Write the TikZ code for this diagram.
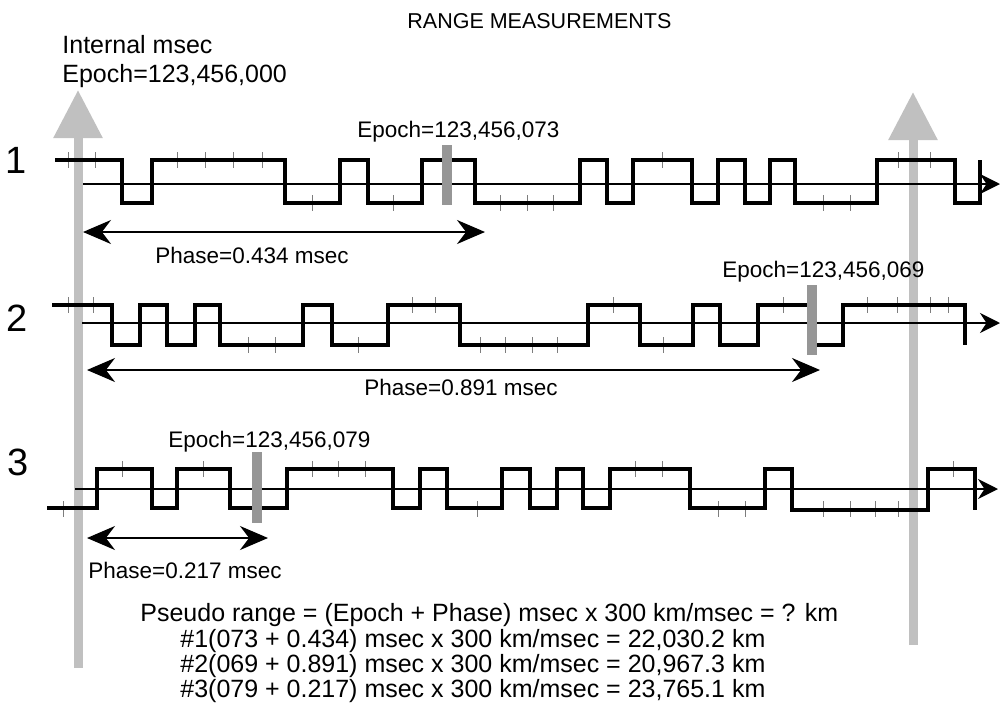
\documentclass[tikz,border=0pt]{standalone}
\usepackage{fontspec}
\setmainfont{Liberation Sans}
\usetikzlibrary{arrows.meta}
\definecolor{PaleGray}{RGB}{192,192,192}
\definecolor{MarkGray}{RGB}{150,150,150}
\definecolor{TickGray}{RGB}{125,125,125}

\begin{document}
\begin{tikzpicture}[x=0.5pt, y=-0.5pt,
    guide/.style={draw=PaleGray, line width=4.5pt, -{Triangle[length=24pt, width=23.5pt]}},
    codeaxis/.style={draw=black, line width=1pt, -{Stealth[length=10pt, width=10pt]}},
    wave/.style={draw=black, line width=2pt},
    chip/.style={draw=TickGray, line width=0.5pt},
    epochbar/.style={draw=MarkGray, line width=5pt},
    phasearrow/.style={draw=black, line width=1pt, {Stealth[length=14pt, width=12pt]}-{Stealth[length=14pt, width=12pt]}},
    lbl/.style={inner sep=0pt, anchor=base west, font=\fontsize{11.25}{13}\selectfont},
    big/.style={inner sep=0pt, anchor=base west, font=\fontsize{12.5}{14}\selectfont},
    num/.style={inner sep=0pt, font=\fontsize{19}{22}\selectfont}
  ]
    \useasboundingbox (0,0) rectangle (1008,718);

    \coordinate (gL0) at (78,668);
    \coordinate (gL1) at (78,90);
    \coordinate (gR0) at (913,645);
    \coordinate (gR1) at (913,92);
    \draw[guide] (gL0) -- (gL1);
    \draw[guide] (gR0) -- (gR1);

    \coordinate (a1s) at (83,184);
    \coordinate (a1e) at (1000,184);
    \coordinate (a2s) at (82,323);
    \coordinate (a2e) at (1000,323);
    \coordinate (a3s) at (75,489);
    \coordinate (a3e) at (998,489);
    \draw[codeaxis] (a1s) -- (a1e);
    \draw[codeaxis] (a2s) -- (a2e);
    \draw[codeaxis] (a3s) -- (a3e);

    \foreach \x in {68,95,177,205,233,262,662,898,930}
      \draw[chip] (\x,152) -- (\x,168);
    \foreach \x in {312,393,500,527,553,823,850}
      \draw[chip] (\x,195) -- (\x,211);
    \foreach \x in {68,93,412,435,613,783,867,897,930,948}
      \draw[chip] (\x,297) -- (\x,313);
    \foreach \x in {248,275,358,480,505,532,557,663}
      \draw[chip] (\x,337) -- (\x,353);
    \foreach \x in {122,203,312,338,365,635,662,953}
      \draw[chip] (\x,461) -- (\x,477);
    \foreach \x in {63,477,718,745,823,850,875,898}
      \draw[chip] (\x,501) -- (\x,517);

    \draw[wave] (55,160) -| (122,203) -| (152,160) -| (285,203) -| (340,160) -| (368,203)
      -| (422,160) -| (475,203) -| (580,160) -| (607,203) -| (633,160) -| (692,203)
      -| (718,160) -| (745,203) -| (770,160) -| (795,203) -| (877,160) -| (955,203) -| (980,160);
    \draw[wave] (52,305) -| (112,345) -| (140,305) -| (167,345) -| (195,305) -| (220,345)
      -| (303,305) -| (332,345) -| (388,305) -| (460,345) -| (588,305) -| (640,345)
      -| (693,305) -| (720,345) -| (758,305) -| (812,345) -| (843,305) -| (965,345);
    \draw[wave] (47,508) -| (97,469) -| (152,508) -| (177,469) -| (230,508) -| (287,469)
      -| (393,508) -| (420,469) -| (447,508) -| (502,469) -| (530,508) -| (557,469)
      -| (583,508) -| (610,469) -| (690,508) -| (765,469) -| (792,510) -| (928,469) -| (975,510);

    \coordinate (b1t) at (447,145);
    \coordinate (b1b) at (447,205);
    \coordinate (b2t) at (812,285);
    \coordinate (b2b) at (812,355);
    \coordinate (b3t) at (257,452);
    \coordinate (b3b) at (257,523);
    \draw[epochbar] (b1t) -- (b1b);
    \draw[epochbar] (b2t) -- (b2b);
    \draw[epochbar] (b3t) -- (b3b);

    \coordinate (p1s) at (83,232);
    \coordinate (p1e) at (485,232);
    \coordinate (p2s) at (87,370);
    \coordinate (p2e) at (820,370);
    \coordinate (p3s) at (87,538);
    \coordinate (p3e) at (268,538);
    \draw[phasearrow] (p1s) -- (p1e);
    \draw[phasearrow] (p2s) -- (p2e);
    \draw[phasearrow] (p3s) -- (p3e);

    \node[num] (n1) at (16,160) {1};
    \node[num] (n2) at (17,318) {2};
    \node[num] (n3) at (18,462) {3};

    \node[lbl, font=\fontsize{10.75}{13}\selectfont] (ttl) at (407,28) {RANGE MEASUREMENTS};
    \node[big] (intl) at (62,53) {Internal msec};
    \node[big] (ep0) at (62,82) {Epoch=123,456,000};
    \node[lbl] (ep1) at (357,137) {Epoch=123,456,073};
    \node[lbl] (ph1) at (155,263) {Phase=0.434 msec};
    \node[lbl] (ep2) at (722,277) {Epoch=123,456,069};
    \node[lbl] (ph2) at (364,395) {Phase=0.891 msec};
    \node[lbl] (ep3) at (168,447) {Epoch=123,456,079};
    \node[lbl] (ph3) at (88,578) {Phase=0.217 msec};
    \node[big] (f0) at (140,621) {Pseudo range = (Epoch + Phase) msec x 300 km/msec = ? km};
    \node[big] (f1) at (180,647) {\#1(073 + 0.434) msec x 300 km/msec = 22,030.2 km};
    \node[big] (f2) at (180,672) {\#2(069 + 0.891) msec x 300 km/msec = 20,967.3 km};
    \node[big] (f3) at (180,697) {\#3(079 + 0.217) msec x 300 km/msec = 23,765.1 km};
  \end{tikzpicture}
\end{document}
